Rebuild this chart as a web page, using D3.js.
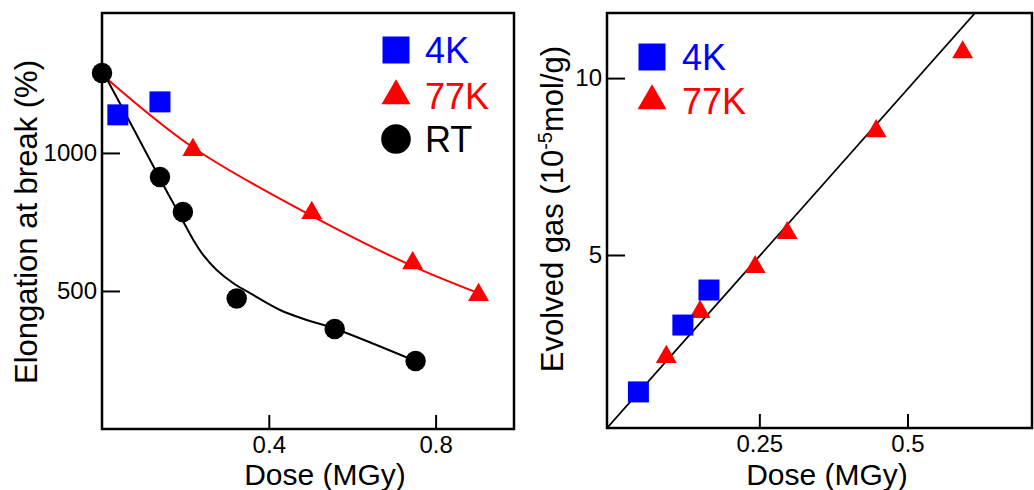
<!DOCTYPE html>
<html>
<head>
<meta charset="utf-8">
<script src="https://cdn.jsdelivr.net/npm/d3@7"></script>
<style>
  body { margin: 0; background: #fff; }
  text { font-family: "Liberation Sans", Arial, sans-serif; }
</style>
</head>
<body>
<svg id="chart" width="1034" height="490"></svg>
<script>
// ---- left panel data: elongation at break vs dose ----
const rtDose = [0, 0.139, 0.194, 0.323, 0.558, 0.752];
const rtElong = [1290, 913, 786, 473, 362, 246];
const k4Dose = [0.038, 0.139];
const k4Elong = [1138, 1185];
const k77Dose = [0.218, 0.503, 0.745, 0.903];
const k77Elong = [1011, 783, 601, 486];
// hand-drawn trend curves
const rtFitDose = [0.011, 0.08, 0.147, 0.171, 0.195, 0.219, 0.243, 0.275, 0.315, 0.355, 0.427, 0.491, 0.554, 0.752];
const rtFitElong = [1270, 1075, 884, 818, 751, 685, 630, 576, 528, 492, 431, 395, 366, 246];
const k77FitDose = [0.011, 0.22, 0.503, 0.745, 0.903];
const k77FitElong = [1270, 1018, 772, 590, 492];

// ---- right panel data: evolved gas vs dose ----
const gas4Dose = [0.046, 0.121, 0.165];
const gas4Val = [1.13, 3.02, 4.01];
const gas77Dose = [0.093, 0.150, 0.243, 0.297, 0.447, 0.593];
const gas77Val = [2.12, 3.39, 4.66, 5.62, 8.5, 10.73];
const gasFitDose = [-0.007, 0.614];
const gasFitVal = [0.11, 11.84];

const leftXTicks = [0.4, 0.8];
const leftYTicks = [500, 1000];
const rightXTicks = [0.25, 0.5];
const rightYTicks = [5, 10];

const svg = d3.select('#chart');
const BLUE = '#0000ff', RED = '#ff0000';

function panel(xs, ys, xTicks, yTicks, xFmt, id) {
  const g = svg.append('g');
  const [x0, x1] = xs.range(), [y0, y1] = ys.range();
  g.append('clipPath').attr('id', id).append('rect')
    .attr('x', x0).attr('y', y1).attr('width', x1 - x0).attr('height', y0 - y1);

  const xAxis = g.append('g').attr('transform', `translate(0,${y0})`)
    .call(d3.axisBottom(xs).tickValues(xTicks).tickFormat(xFmt)
      .tickSizeInner(-14).tickSizeOuter(0).tickPadding(7));
  const yAxis = g.append('g').attr('transform', `translate(${x0},0)`)
    .call(d3.axisLeft(ys).tickValues(yTicks).tickFormat(d3.format('d'))
      .tickSizeInner(-18).tickSizeOuter(0).tickPadding(5));
  [xAxis, yAxis].forEach(a => {
    a.select('.domain').remove();
    a.selectAll('line').attr('stroke', '#000').attr('stroke-width', 2);
    a.selectAll('text').attr('font-size', 24).attr('fill', '#000')
      .style('font-family', '"Liberation Sans", Arial, sans-serif');
  });

  g.append('rect').attr('x', x0).attr('y', y1)
    .attr('width', x1 - x0).attr('height', y0 - y1)
    .attr('fill', 'none').attr('stroke', '#000').attr('stroke-width', 2.5);
  return g;
}

function drawSymbols(g, xs, ys, xv, yv, type, size, color) {
  g.selectAll(null).data(xv.map((d, i) => [d, yv[i]])).enter()
    .append('path')
    .attr('d', d3.symbol().type(type).size(size))
    .attr('transform', d => `translate(${xs(d[0])},${ys(d[1])})`)
    .attr('fill', color);
}

// ---------------- left panel ----------------
const xL = d3.scaleLinear().domain([0, 0.988]).range([102, 514]);
const yL = d3.scaleLinear().domain([0, 1507]).range([429, 13]);
const gL = panel(xL, yL, leftXTicks, leftYTicks, d3.format('.1f'), 'clipL');

const lineL = d3.line().x(d => xL(d[0])).y(d => yL(d[1])).curve(d3.curveCatmullRom);
gL.append('path').datum(k77FitDose.map((d, i) => [d, k77FitElong[i]]))
  .attr('d', lineL).attr('fill', 'none').attr('stroke', RED).attr('stroke-width', 2);
gL.append('path').datum(rtFitDose.map((d, i) => [d, rtFitElong[i]]))
  .attr('d', lineL).attr('fill', 'none').attr('stroke', '#000').attr('stroke-width', 2);

drawSymbols(gL, xL, yL, k4Dose, k4Elong, d3.symbolSquare, 441, BLUE);
drawSymbols(gL, xL, yL, k77Dose, k77Elong, d3.symbolTriangle, 190, RED);
drawSymbols(gL, xL, yL, rtDose, rtElong, d3.symbolCircle, 330, '#000');

// legend left
const legL = [
  { label: '4K', type: d3.symbolSquare, size: 729, color: BLUE, y: 50 },
  { label: '77K', type: d3.symbolTriangle, size: 364, color: RED, y: 96 },
  { label: 'RT', type: d3.symbolCircle, size: 690, color: '#000', y: 139 }
];
legL.forEach(d => {
  gL.append('path').attr('d', d3.symbol().type(d.type).size(d.size)())
    .attr('transform', `translate(396,${d.y})`).attr('fill', d.color);
  gL.append('text').attr('x', 425).attr('y', d.y + 13).attr('font-size', 36)
    .attr('fill', d.color).text(d.label);
});

svg.append('text').attr('x', 325).attr('y', 485).attr('text-anchor', 'middle')
  .attr('font-size', 30).text('Dose (MGy)');
svg.append('text').attr('transform', 'translate(37,222) rotate(-90)')
  .attr('text-anchor', 'middle').attr('font-size', 31).text('Elongation at break (%)');

// ---------------- right panel ----------------
const xR = d3.scaleLinear().domain([-0.007, 0.71]).range([607, 1032]);
const yR = d3.scaleLinear().domain([0.11, 11.84]).range([428, 13]);
const gR = panel(xR, yR, rightXTicks, rightYTicks, d => d === 0.25 ? '0.25' : '0.5', 'clipR');

gR.append('path').datum(gasFitDose.map((d, i) => [d, gasFitVal[i]]))
  .attr('d', d3.line().x(d => xR(d[0])).y(d => yR(d[1])))
  .attr('clip-path', 'url(#clipR)')
  .attr('fill', 'none').attr('stroke', '#000').attr('stroke-width', 1.8);

drawSymbols(gR, xR, yR, gas77Dose, gas77Val, d3.symbolTriangle, 190, RED);
drawSymbols(gR, xR, yR, gas4Dose, gas4Val, d3.symbolSquare, 441, BLUE);

const legR = [
  { label: '4K', type: d3.symbolSquare, size: 729, color: BLUE, y: 57 },
  { label: '77K', type: d3.symbolTriangle, size: 364, color: RED, y: 101 }
];
legR.forEach(d => {
  gR.append('path').attr('d', d3.symbol().type(d.type).size(d.size)())
    .attr('transform', `translate(652,${d.y})`).attr('fill', d.color);
  gR.append('text').attr('x', 682).attr('y', d.y + 13).attr('font-size', 36)
    .attr('fill', d.color).text(d.label);
});

svg.append('text').attr('x', 827).attr('y', 485).attr('text-anchor', 'middle')
  .attr('font-size', 30).text('Dose (MGy)');
const yLab = svg.append('text').attr('transform', 'translate(563,209) rotate(-90)')
  .attr('text-anchor', 'middle').attr('font-size', 31);
yLab.append('tspan').text('Evolved gas (10');
yLab.append('tspan').attr('font-size', 20).attr('dy', -11).text('-5');
yLab.append('tspan').attr('dy', 11).text('mol/g)');
</script>
</body>
</html>
